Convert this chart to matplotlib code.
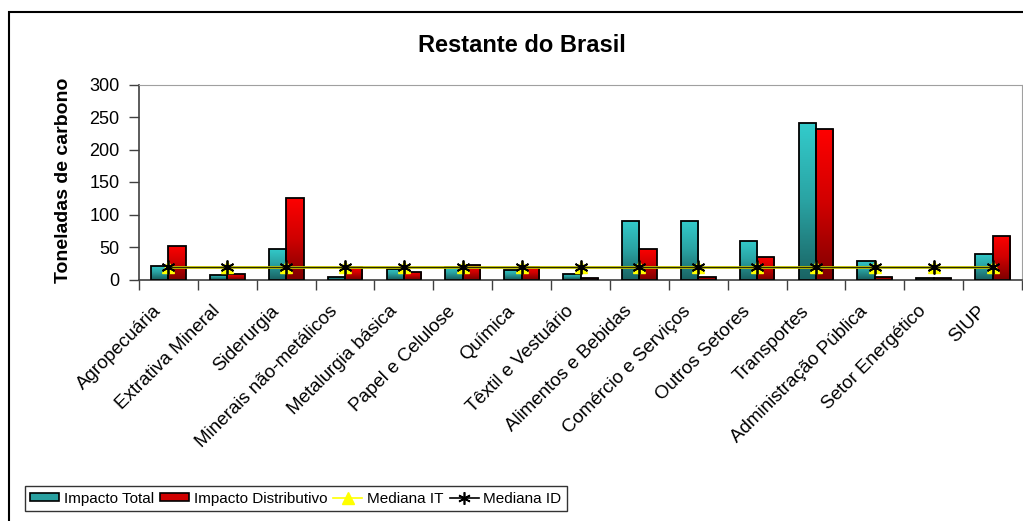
import numpy as np
import matplotlib
matplotlib.use("Agg")
import matplotlib.pyplot as plt
import matplotlib.transforms as mtransforms
from matplotlib.colors import LinearSegmentedColormap
from matplotlib.lines import Line2D
from matplotlib.patches import Patch, Rectangle

plt.rcParams["font.family"] = ["Liberation Sans", "DejaVu Sans"]

categories = [
    "Agropecuária", "Extrativa Mineral", "Siderurgia", "Minerais não-metálicos",
    "Metalurgia básica", "Papel e Celulose", "Química", "Têxtil e Vestuário",
    "Alimentos e Bebidas", "Comércio e Serviços", "Outros Setores", "Transportes",
    "Administração Pública", "Setor Energético", "SIUP",
]
impacto_total = [21, 6.7, 47, 4, 15.5, 19, 14, 9, 90, 90, 59.5, 241.5, 28, 2.5, 38.5]
impacto_distributivo = [52, 9, 126, 19.5, 12, 23, 19, 2, 47, 4.6, 35, 231, 4.6, 2.5, 67]
mediana_it = [19] * len(categories)
mediana_id = [19] * len(categories)
yticks = [0, 50, 100, 150, 200, 250, 300]

teal_cmap = LinearSegmentedColormap.from_list("teal", ["#33CCCC", "#2AA3A3", "#1A6464"])
red_cmap = LinearSegmentedColormap.from_list("red", ["#FF0000", "#D00000", "#800000"])

fig = plt.figure(figsize=(10.23, 5.21), dpi=100)
ax = fig.add_axes([139 / 1023, 1 - 279.5 / 521, 883 / 1023, 195 / 521])

# outer chart frame (runs off the right and bottom edges)
fig.patches.append(Rectangle((8.5 / 1023, -0.1), 1.2, 1 - 11.5 / 521 + 0.1,
                             transform=fig.transFigure, fill=False,
                             edgecolor="black", linewidth=1.5, zorder=0))

x = np.arange(len(categories))
w = 0.295
grad = np.linspace(0, 1, 256).reshape(-1, 1)


def gradient_bars(xs, vals, cmap):
    bars = ax.bar(xs, vals, width=w, align="edge", facecolor="none",
                  edgecolor="black", linewidth=1.3, zorder=3)
    for b in bars:
        x0, y0 = b.get_x(), b.get_y()
        im = ax.imshow(grad, cmap=cmap, aspect="auto", origin="upper",
                       extent=(x0, x0 + b.get_width(), y0, y0 + b.get_height()),
                       zorder=2)
        im.set_clip_path(b)
    return bars


gradient_bars(x - w, impacto_total, teal_cmap)
gradient_bars(x, impacto_distributivo, red_cmap)

# median lines: yellow IT under black ID
ax.plot(x, mediana_it, color="#D0D000", linewidth=2.0, zorder=4)
ax.plot(x, mediana_it, linestyle="none", marker="^", markersize=8,
        markerfacecolor="yellow", markeredgecolor="yellow", zorder=5)
ax.plot(x, mediana_id, color="#2A2A00", linewidth=0.9, zorder=5)
ax.plot(x, mediana_id, linestyle="none", marker=(6, 2, 0), markersize=10,
        markeredgecolor="black", markeredgewidth=1.3, zorder=6)

ax.set_xlim(-0.5, len(categories) - 0.5)
ax.set_ylim(0, 300)
ax.set_yticks(yticks)
ax.tick_params(axis="y", labelsize=13, length=7, width=1, color="#404040", pad=7)
ax.set_xticks(x)
ax.set_xticklabels(categories, rotation=45, ha="right", va="center",
                   rotation_mode="anchor", fontsize=13.5)
ax.tick_params(axis="x", length=0, pad=21)
shift = mtransforms.ScaledTranslation(-7 / 72, 0, fig.dpi_scale_trans)
for lab in ax.get_xticklabels():
    lab.set_transform(lab.get_transform() + shift)
# tick marks between categories
ax.set_xticks(np.arange(len(categories) + 1) - 0.5, minor=True)
ax.tick_params(axis="x", which="minor", length=7, width=1, color="#404040")

for s in ["top", "right"]:
    ax.spines[s].set_color("#A0A0A0")
for s in ["left", "bottom"]:
    ax.spines[s].set_color("#404040")
    ax.spines[s].set_linewidth(1.2)

fig.text(522 / 1023, 1 - 45 / 521, "Restante do Brasil", ha="center", va="center",
         fontsize=17, fontweight="bold")
fig.text(63 / 1023, 1 - 180 / 521, "Toneladas de carbono", ha="center", va="center",
         rotation=90, fontsize=14, fontweight="bold")

handles = [
    Patch(facecolor="#29A0A0", edgecolor="black", linewidth=1.2),
    Patch(facecolor="#D00000", edgecolor="black", linewidth=1.2),
    Line2D([], [], color="yellow", linewidth=1.2, marker="^", markersize=8,
           markerfacecolor="yellow", markeredgecolor="yellow"),
    Line2D([], [], color="black", linewidth=1.2, marker=(6, 2, 0), markersize=9,
           markeredgewidth=1.2),
]
labels = ["Impacto Total", "Impacto Distributivo", "Mediana IT", "Mediana ID"]
leg = fig.legend(handles, labels, loc="lower left",
                 bbox_to_anchor=(25 / 1023, 1 - 511 / 521), ncol=4,
                 fontsize=11, frameon=True, fancybox=False, borderpad=0.35,
                 handlelength=1.9, handleheight=0.45, handletextpad=0.3,
                 columnspacing=0.4, borderaxespad=0)
leg.get_frame().set_edgecolor("black")
leg.get_frame().set_linewidth(1.0)

fig.savefig("out.png", dpi=100)
